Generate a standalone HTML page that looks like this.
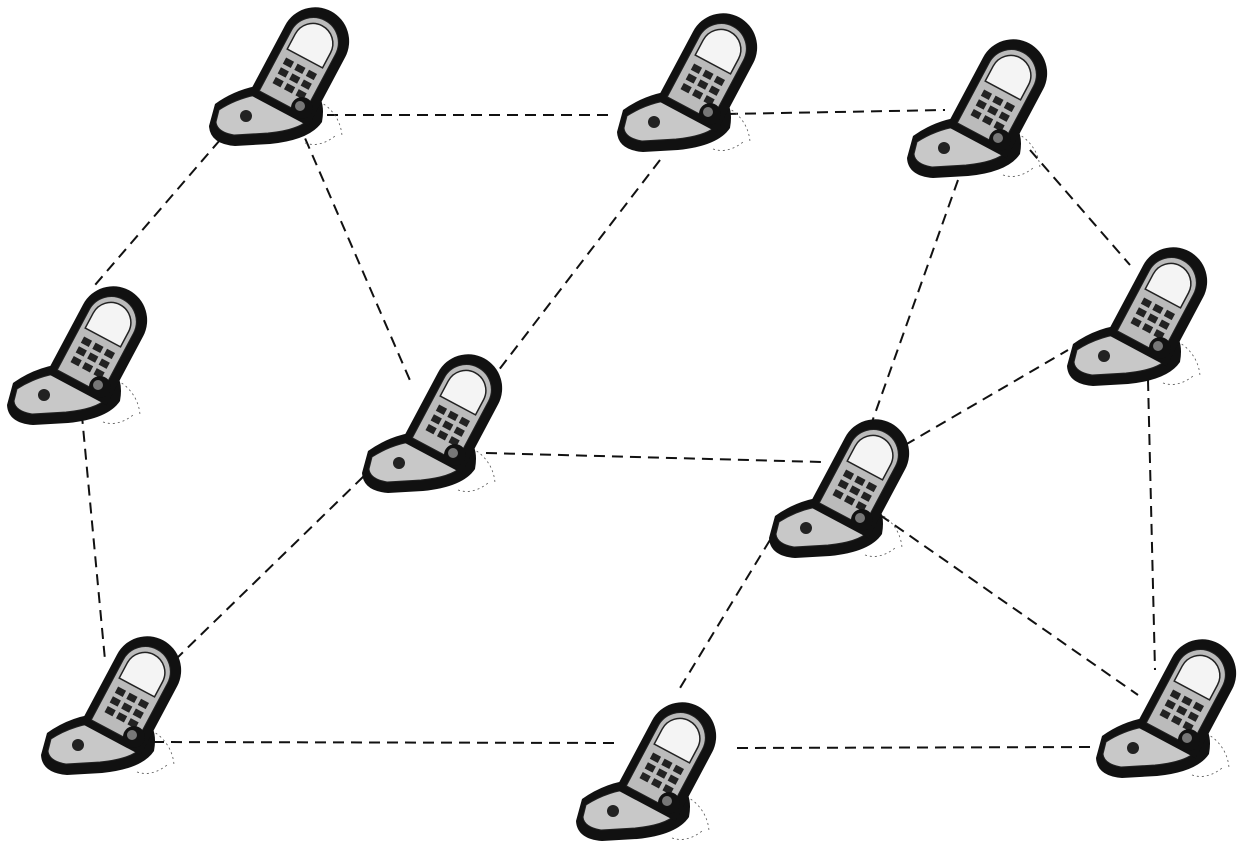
<!DOCTYPE html>
<html><head><style>body{margin:0;background:#fff}svg{display:block}</style></head><body>
<svg width="1240" height="850" viewBox="0 0 1240 850" xmlns="http://www.w3.org/2000/svg">
<defs>
<g id="ph">
 <path d="M100,90 A42,42 0 0 1 132,128 M95,135 Q110,140 125,128" fill="none" stroke="#555" stroke-width="0.8" stroke-dasharray="2,3"/>
 <path d="M5,96 Q30,78 62,76 L104,82 Q116,92 112,114 Q100,132 60,136 L25,138 Q0,136 -1,118 Z" fill="#111"/>
 <path d="M9,102 Q32,87 62,85 L98,90 Q104,100 98,112 Q88,122 58,125 L24,127 Q7,124 6,114 Z" fill="#c8c8c8" stroke="#222" stroke-width="1"/>
 <circle cx="36" cy="108" r="6" fill="#222"/>
 <g transform="rotate(28 92 58)">
  <path d="M58,108 L58,30 A34,34 0 0 1 126,30 L126,108 Z" fill="#111"/>
  <path d="M66,100 L66,32 A25,25 0 0 1 116,32 L116,100 Z" fill="#bbb" stroke="#222" stroke-width="1"/>
  <path d="M71,50 L71,33 A20,20 0 0 1 111,33 L111,50 Z" fill="#f4f4f4" stroke="#222" stroke-width="1.5"/>
  <g fill="#222">
   <rect x="74" y="58" width="9" height="7"/><rect x="87" y="58" width="9" height="7"/><rect x="100" y="58" width="9" height="7"/>
   <rect x="74" y="69" width="9" height="7"/><rect x="87" y="69" width="9" height="7"/><rect x="100" y="69" width="9" height="7"/>
   <rect x="74" y="80" width="9" height="7"/><rect x="87" y="80" width="9" height="7"/><rect x="100" y="80" width="9" height="7"/>
  </g>
 </g>
 <circle cx="92" cy="100" r="11" fill="#111"/><circle cx="90" cy="98" r="5" fill="#777"/>
</g>
</defs>
<g stroke="#111" stroke-width="2" stroke-dasharray="11,7" fill="none">
<line x1="327" y1="115" x2="615" y2="115"/>
<line x1="727" y1="114" x2="945" y2="110"/>
<line x1="220" y1="140" x2="95" y2="285"/>
<line x1="298" y1="122" x2="412" y2="385"/>
<line x1="660" y1="160" x2="495" y2="375"/>
<line x1="958" y1="180" x2="872" y2="422"/>
<line x1="1030" y1="150" x2="1130" y2="265"/>
<line x1="486" y1="453" x2="822" y2="462"/>
<line x1="905" y1="445" x2="1068" y2="350"/>
<line x1="80" y1="395" x2="105" y2="660"/>
<line x1="175" y1="660" x2="365" y2="475"/>
<line x1="153" y1="742" x2="615" y2="743"/>
<line x1="770" y1="540" x2="680" y2="688"/>
<line x1="880" y1="515" x2="1138" y2="695"/>
<line x1="1148" y1="380" x2="1155" y2="670"/>
<line x1="737" y1="748" x2="1095" y2="747"/>
</g>
<use href="#ph" x="210" y="8"/>
<use href="#ph" x="618" y="14"/>
<use href="#ph" x="908" y="40"/>
<use href="#ph" x="8" y="287"/>
<use href="#ph" x="363" y="355"/>
<use href="#ph" x="1068" y="248"/>
<use href="#ph" x="770" y="420"/>
<use href="#ph" x="42" y="637"/>
<use href="#ph" x="577" y="703"/>
<use href="#ph" x="1097" y="640"/>
</svg>
</body></html>
